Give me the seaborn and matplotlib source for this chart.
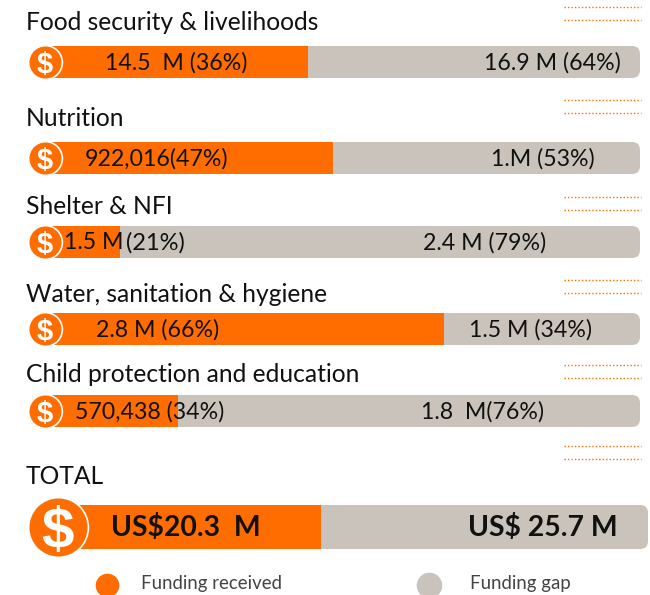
#!/usr/bin/env python3
import matplotlib
matplotlib.use("Agg")
import matplotlib.pyplot as plt
from matplotlib.patches import FancyBboxPatch
import seaborn as sns

sectors = ["Food security & livelihoods", "Nutrition", "Shelter & NFI",
           "Water, sanitation & hygiene", "Child protection and education", "TOTAL"]
received_share = [44.2, 48.4, 12.6, 67.1, 22.4, 44.6]
received_labels = ["14.5  M (36%)", "922,016(47%)", "1.5 M", "2.8 M (66%)", "570,438 (34%)", "US$20.3  M"]
gap_labels = ["16.9 M (64%)", "1.M (53%)", "2.4 M (79%)", "1.5 M (34%)", "1.8  M(76%)", "US$ 25.7 M"]
legend_labels = ["Funding received", "Funding gap"]

ORANGE = "#FF6D00"
GREY = "#C9C3BB"
W, H = 650, 595

# layout in pixels
bar_top = [46, 142, 226, 313, 395, 505]
bar_height = [32, 32, 32, 32, 32, 44]
bar_left = [45, 45, 45, 45, 45, 58]
bar_right = [640, 640, 640, 640, 640, 648]
title_y = [22, 119, 207, 294, 374, 476]
received_x = [105, 85, 64, 96, 75, 111]
gap_x = [484, 491, 423, 469, 421, 468]
dots_y = [7, 20, 100, 113, 197, 210, 280, 293, 365, 378, 446, 459]


def main():
    sns.set_theme(style="white")
    plt.rcParams['font.family'] = ['Lato', 'DejaVu Sans']

    fig = plt.figure(figsize=(W / 100, H / 100), dpi=100)
    fig.patch.set_facecolor("white")

    # overlay in pixel coordinates for text, discs and dotted rules
    over = fig.add_axes([0, 0, 1, 1], zorder=5)
    over.set_xlim(0, W)
    over.set_ylim(H, 0)
    over.set_axis_off()
    over.patch.set_alpha(0)

    for i, name in enumerate(sectors):
        top, h = bar_top[i], bar_height[i]
        left, right = bar_left[i], bar_right[i]
        ax = fig.add_axes([left / W, 1 - (top + h) / H, (right - left) / W, h / H])
        sns.barplot(x=[100], y=[name], color=GREY, saturation=1, width=1, linewidth=0, ax=ax)
        sns.barplot(x=[received_share[i]], y=[name], color=ORANGE, saturation=1, width=1, linewidth=0, ax=ax)
        ax.set_xlim(0, 100)
        ax.set_ylim(0.5, -0.5)
        ax.set_axis_off()

        # rounded right end
        clip = FancyBboxPatch((left - 30, top), right - left + 30, h, boxstyle="round,pad=0,rounding_size=8",
                              transform=over.transData)
        for bar in ax.patches:
            bar.set_clip_path(clip)

        total = name == "TOTAL"
        over.text(26, title_y[i], name, fontsize=17.7, color="#111111", va="center", ha="left")
        weight = "bold" if total else "normal"
        size = 20.4 if total else 16.7
        cy = top + h / 2
        over.text(received_x[i], cy + 0.5, received_labels[i], fontsize=size, fontweight=weight, color="#111111",
                  va="center", ha="left")
        over.text(gap_x[i], cy + 0.5, gap_labels[i], fontsize=size, fontweight=weight, color="#111111",
                  va="center", ha="left")

        # dollar disc
        sns.scatterplot(x=[left], y=[cy], s=1850 if total else 590, color=ORANGE, edgecolor="white",
                        linewidth=1.2, clip_on=False, zorder=3, ax=over)
        over.text(left, cy, "$", fontsize=42 if total else 21, fontweight="bold", family="Liberation Sans",
                  color="white", ha="center", va="center_baseline", zorder=4)

    # Shelter label runs on over the grey
    over.text(126, bar_top[2] + bar_height[2] / 2 + 0.5, "(21%)", fontsize=17, color="#111111", va="center", ha="left")

    over.hlines(dots_y, 564, 641, color=ORANGE, linewidth=1, linestyle=(0, (1, 1.5)))

    # legend along the bottom edge
    sns.scatterplot(x=[107], y=[585], s=290, color=ORANGE, linewidth=0, ax=over)
    sns.scatterplot(x=[429], y=[585], s=340, color=GREY, linewidth=0, ax=over)
    over.text(141, 584, legend_labels[0], fontsize=13.4, color="#444444", va="center")
    over.text(470, 584, legend_labels[1], fontsize=13.4, color="#444444", va="center")
    over.set_xlim(0, W)
    over.set_ylim(H, 0)

    fig.savefig("out.png", dpi=100)


if __name__ == "__main__":
    main()
